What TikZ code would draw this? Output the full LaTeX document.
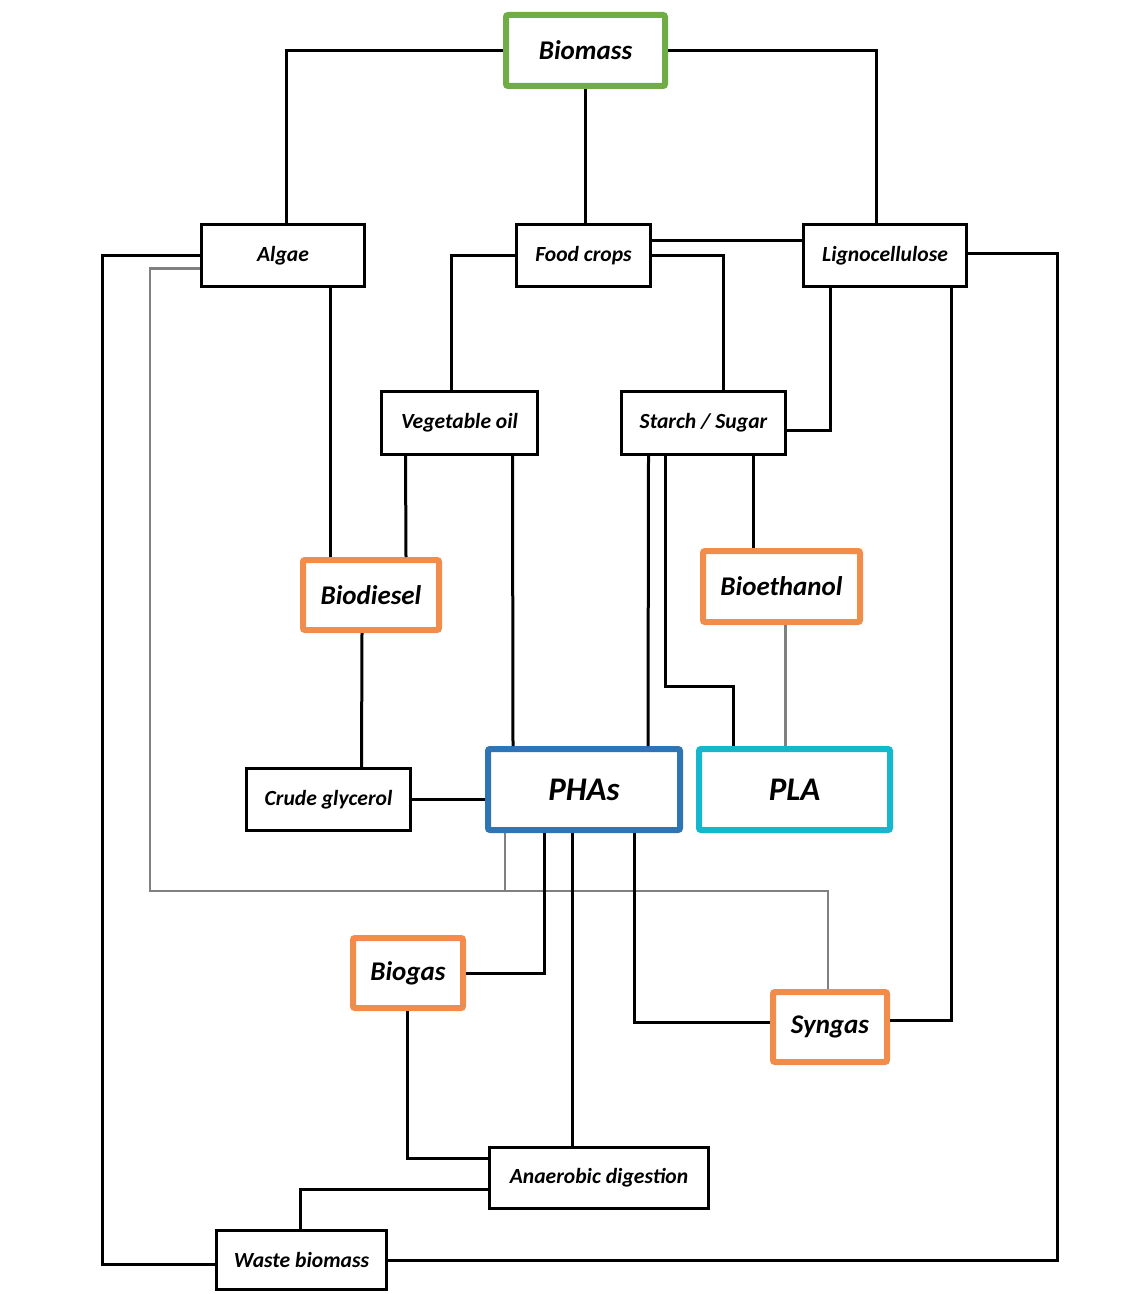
\documentclass[tikz,border=0pt]{standalone}
\usepackage{fontspec}
\setmainfont{Carlito}
\usepackage{tikz}
\usetikzlibrary{calc}
\usepackage{xcolor}
\definecolor{boxgreen}{RGB}{112,173,71}
\definecolor{boxorange}{RGB}{242,140,75}
\definecolor{boxblue}{RGB}{46,117,182}
\definecolor{boxcyan}{RGB}{20,184,204}
\definecolor{linegray}{RGB}{128,128,128}
\begin{document}
\begin{tikzpicture}[x=0.5pt, y=-0.5pt,
  plain/.style={draw=black, line width=1.6pt, inner sep=0pt, font=\bfseries\itshape\fontsize{10.8}{12}\selectfont},
  product/.style={draw=boxorange, line width=3pt, inner sep=0pt, rounded corners=1pt, font=\bfseries\itshape\fontsize{13.5}{15}\selectfont},
  polymer/.style={line width=3pt, inner sep=0pt, rounded corners=1pt, font=\bfseries\itshape\fontsize{16.5}{18}\selectfont},
  link/.style={line width=1.5pt, black},
  graylink/.style={line width=1.4pt, linegray}]
\useasboundingbox (0,0) rectangle (1143,1294);

\node[product, draw=boxgreen, minimum width=79.5pt, minimum height=35.5pt] (biomass) at (585.5,50.5) {Biomass};
\node[plain, minimum width=81.5pt, minimum height=31pt] (algae) at (283,255.5) {Algae};
\node[plain, minimum width=67pt, minimum height=31pt] (food) at (583.5,255.5) {Food crops};
\node[plain, minimum width=81.5pt, minimum height=31pt] (ligno) at (885,255.5) {Lignocellulose};
\node[plain, minimum width=78pt, minimum height=31.5pt] (vegoil) at (459.5,423) {Vegetable oil};
\node[plain, minimum width=82pt, minimum height=31.5pt] (starch) at (703.5,423) {Starch / Sugar};
\node[product, minimum width=68pt, minimum height=35pt] (biodiesel) at (371,595) {Biodiesel};
\node[product, minimum width=78.5pt, minimum height=35.5pt] (bioethanol) at (781.5,586.5) {Bioethanol};
\node[plain, minimum width=82pt, minimum height=31pt] (glycerol) at (328.5,799.5) {Crude glycerol};
\node[polymer, draw=boxblue, minimum width=96pt, minimum height=40.5pt] (phas) at (584,789.5) {PHAs};
\node[polymer, draw=boxcyan, minimum width=95.5pt, minimum height=40.5pt] (pla) at (794.5,789.5) {PLA};
\node[product, minimum width=55pt, minimum height=35pt] (biogas) at (408,973) {Biogas};
\node[product, minimum width=57pt, minimum height=35pt] (syngas) at (830,1027) {Syngas};
\node[plain, minimum width=109.5pt, minimum height=30.5pt] (anaer) at (599,1178) {Anaerobic digestion};
\node[plain, minimum width=85pt, minimum height=29.5pt] (waste) at (301.5,1260) {Waste biomass};

\coordinate (bus) at (505,891);

\draw[link] (biomass.west) -| ($(algae.north)+(3,0)$);
\draw[link] (biomass.south) -- (biomass.south |- food.north);
\draw[link] (biomass.east) -| ($(ligno.north)+(-9,0)$);
\draw[link] (algae.west) -- ++(-97,0) |- ($(waste.west)+(0,4)$);
\draw[graylink] ($(algae.west)+(0,13)$) -- ++(-50,0) |- (bus) -| ($(syngas.north)+(-2,0)$);
\draw[graylink] ($(phas.south)+(-79,0)$) -- (bus);
\draw[link] ($(algae.south)+(47,0)$) -- ($(biodiesel.north)+(-41,0)$);
\draw[link] ($(food.east)+(0,-15)$) -- ($(ligno.west)+(0,-15)$);
\draw[link] (food.west) -| ($(vegoil.north)+(-8,0)$);
\draw[link] (food.east) -| ($(starch.north)+(20,0)$);
\draw[link] ($(ligno.south)+(-55,0)$) |- ($(starch.east)+(0,7)$);
\draw[link] ($(ligno.east)+(0,-2)$) -- ++(89,0) |- (waste.east);
\draw[link] ($(ligno.south)+(66,0)$) |- ($(syngas.east)+(0,-7)$);
\draw[link] ($(vegoil.south)+(-54,0)$) -- ($(biodiesel.north)+(35,0)$);
\draw[link] ($(vegoil.south)+(53,0)$) -- ($(phas.north)+(-71,0)$);
\draw[link] ($(starch.south)+(-55,0)$) -- ($(phas.north)+(64,0)$);
\draw[link] ($(starch.south)+(-38,0)$) -- ++(0,230) -| ($(pla.north)+(-61,0)$);
\draw[link] ($(starch.south)+(50,0)$) -- ($(bioethanol.north)+(-28,0)$);
\draw[graylink] ($(bioethanol.south)+(4,0)$) -- ($(pla.north)+(-9,0)$);
\draw[link] ($(biodiesel.south)+(-9,0)$) -- ($(glycerol.north)+(33,0)$);
\draw[link] (glycerol.east) -- (glycerol.east -| phas.west);
\draw[link] ($(phas.south)+(-40,0)$) |- (biogas.east);
\draw[link] ($(phas.south)+(-12,0)$) -- ($(anaer.north)+(-27,0)$);
\draw[link] ($(phas.south)+(50,0)$) |- ($(syngas.west)+(0,-5)$);
\draw[link] ($(biogas.south)+(-1,0)$) |- ($(anaer.west)+(0,-20)$);
\draw[link] ($(anaer.west)+(0,11)$) -| ($(waste.north)+(-1.5,0)$);
\end{tikzpicture}
\end{document}
